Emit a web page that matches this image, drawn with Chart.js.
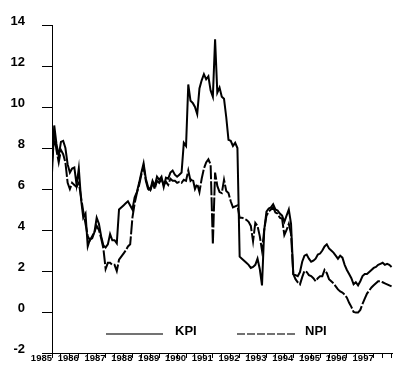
<!DOCTYPE html>
<html>
<head>
<meta charset="utf-8">
<script src="https://cdn.jsdelivr.net/npm/chart.js@4.4.1/dist/chart.umd.min.js"></script>
<style>
  html, body { margin: 0; padding: 0; background: #fff; }
  #wrap { width: 393px; height: 367px; position: relative; }
</style>
</head>
<body>
<div id="wrap"><canvas id="chart"></canvas></div>
<script>
// monthly series, first value = Jan 1985
const startYear = 1985;
const yearLabels = [1985, 1986, 1987, 1988, 1989, 1990, 1991, 1992, 1993, 1994, 1995, 1996, 1997];
const yTicks = [-2, 0, 2, 4, 6, 8, 10, 12, 14];

const kpi = [
  6.8, 9.1, 8.2, 7.6, 8.3, 8.35, 8.0, 7.2, 6.8, 7.0, 7.05, 6.2,
  7.0, 5.5, 4.6, 4.8, 3.2, 3.55, 3.6, 3.9, 4.6, 4.3, 3.7, 3.25,
  3.15, 3.3, 3.8, 3.5, 3.5, 3.35, 5.0, 5.1, 5.2, 5.3, 5.4, 5.2,
  5.0, 5.6, 5.85, 6.3, 6.8, 7.25, 6.5, 6.1, 5.95, 6.4, 6.15, 6.6,
  6.45, 6.6, 6.1, 6.55, 6.5, 6.8, 6.9, 6.7, 6.6, 6.7, 6.8, 8.25,
  8.1, 11.1, 10.3, 10.2, 10.0, 9.65, 10.9, 11.3, 11.6, 11.35, 11.5, 10.8,
  10.5, 13.3, 10.7, 10.95, 10.5, 10.4, 9.5, 8.4, 8.35, 8.1, 8.25, 8.0,
  2.7, 2.6, 2.5, 2.4, 2.3, 2.15, 2.2, 2.3, 2.6, 2.1, 1.3, 4.0,
  4.9, 5.05, 5.1, 5.25, 5.0, 4.95, 4.8, 4.7, 4.4, 4.7, 5.0, 4.3,
  1.85, 1.8, 1.75, 1.95, 2.45, 2.75, 2.8, 2.6, 2.45, 2.5, 2.6, 2.8,
  2.85, 3.0, 3.2, 3.3, 3.1, 3.0, 2.9, 2.75, 2.6, 2.75, 2.65, 2.3,
  2.05, 1.85, 1.65, 1.35, 1.45, 1.3, 1.5, 1.75, 1.85, 1.85, 1.95, 2.05,
  2.15, 2.2, 2.3, 2.35, 2.4, 2.3, 2.35, 2.3, 2.2
];

const npi = [
  7.3, 8.6, 7.9, 7.3, 7.9, 7.7, 7.3, 6.3, 6.0, 6.3, 6.2, 6.1,
  6.3, 5.6, 4.9, 4.3, 3.7, 3.5, 3.7, 3.9, 4.2, 4.0, 3.6, 3.1,
  2.1, 2.4, 2.4, 2.3, 2.3, 2.0, 2.55, 2.7, 2.85, 3.0, 3.2, 3.3,
  4.6, 5.3, 5.8, 6.2, 6.7, 7.1, 6.4, 6.0, 5.9, 6.3, 6.0, 6.4,
  6.3, 6.5, 6.2, 6.35, 6.2, 6.5, 6.4, 6.4, 6.3, 6.35, 6.3, 6.45,
  6.4, 6.9, 6.4, 6.5, 6.0, 6.25, 5.85, 6.5, 7.0, 7.3, 7.45, 7.2,
  3.3, 6.8, 6.15, 5.85, 5.8, 6.45, 5.9, 5.8, 5.4, 5.1, 5.15, 5.2,
  4.6, 4.6, 4.55, 4.5, 4.4, 4.2, 3.45, 4.35, 4.2, 3.7, 3.0, 4.0,
  4.7, 4.9, 5.0, 5.1, 4.85, 4.8, 4.6, 4.55, 3.75, 4.0, 4.3, 3.8,
  1.85, 1.6, 1.45, 1.35, 1.7, 2.0, 1.95, 1.8, 1.75, 1.65, 1.5, 1.65,
  1.75, 1.75, 2.05, 1.9, 1.6, 1.5, 1.4, 1.25, 1.1, 1.0, 0.95, 0.85,
  0.7, 0.45, 0.25, 0.0, -0.03, -0.03, 0.1, 0.4, 0.65, 0.9, 1.05, 1.2,
  1.3, 1.4, 1.5, 1.5, 1.45, 1.4, 1.35, 1.3, 1.25
];

function toPoints(values) {
  return values.map((v, i) => ({ x: startYear + i / 12, y: v }));
}

// legend drawn inside the plot, like the original
const legendPlugin = {
  id: "innerLegend",
  afterDraw(chart) {
    const ctx = chart.ctx;
    const y = 334;
    ctx.save();
    ctx.strokeStyle = "#444";
    ctx.lineWidth = 1.5;
    ctx.beginPath();
    ctx.moveTo(106, y);
    ctx.lineTo(163, y);
    ctx.stroke();
    ctx.setLineDash([8, 2]);
    ctx.beginPath();
    ctx.moveTo(237, y);
    ctx.lineTo(295, y);
    ctx.stroke();
    ctx.setLineDash([]);
    ctx.fillStyle = "#000";
    ctx.font = "bold 13px 'Liberation Sans', Arial, sans-serif";
    ctx.textBaseline = "alphabetic";
    ctx.fillText("KPI", 175, 335);
    ctx.fillText("NPI", 305, 335);
    ctx.restore();
  },
};

new Chart(document.getElementById("chart"), {
  type: "line",
  data: {
    datasets: [
      {
        label: "KPI",
        data: toPoints(kpi),
        borderColor: "#000",
        borderWidth: 2,
        pointRadius: 0,
        tension: 0,
      },
      {
        label: "NPI",
        data: toPoints(npi),
        borderColor: "#000",
        borderWidth: 2,
        borderDash: [14, 2],
        pointRadius: 0,
        tension: 0,
      },
    ],
  },
  options: {
    responsive: true,
    maintainAspectRatio: false,
    animation: false,
    layout: { padding: { top: 25, right: 0, bottom: 0, left: 0 } },
    plugins: {
      legend: { display: false },
      tooltip: { enabled: false },
    },
    scales: {
      x: {
        type: "linear",
        min: startYear,
        max: 1997.72,
        afterBuildTicks(scale) {
          // a tick every four months
          const ticks = [];
          for (let k = 0; startYear + k / 3 <= 1997.72; k++) {
            ticks.push({ value: startYear + k / 3 });
          }
          scale.ticks = ticks;
        },
        afterFit(scale) {
          scale.height = 14;
        },
        border: { display: true, color: "#000", width: 1 },
        grid: {
          drawOnChartArea: false,
          drawTicks: true,
          tickLength: 5,
          tickColor: "#000",
        },
        ticks: {
          autoSkip: false,
          maxRotation: 0,
          align: "end",
          padding: -4,
          color: "#000",
          font: { family: "'Liberation Sans', Arial, sans-serif", size: 9.5, weight: "bold", lineHeight: 1 },
          callback(value) {
            const yr = Math.round(value);
            if (Math.abs(value - yr) < 1e-6 && yearLabels.includes(yr)) return String(yr);
            return "";
          },
        },
      },
      y: {
        min: -2,
        max: 14,
        afterBuildTicks(scale) {
          scale.ticks = yTicks.map((v) => ({ value: v }));
        },
        afterFit(scale) {
          scale.width = 52;
          scale.paddingTop = 0;
          scale.paddingBottom = 0;
        },
        border: { display: true, color: "#000", width: 1 },
        grid: {
          drawOnChartArea: false,
          drawTicks: true,
          tickLength: 10,
          tickColor: "#000",
        },
        ticks: {
          padding: 17,
          labelOffset: -4,
          color: "#000",
          font: { family: "'Liberation Sans', Arial, sans-serif", size: 13, weight: "bold" },
        },
      },
    },
  },
  plugins: [legendPlugin],
});
</script>
</body>
</html>
